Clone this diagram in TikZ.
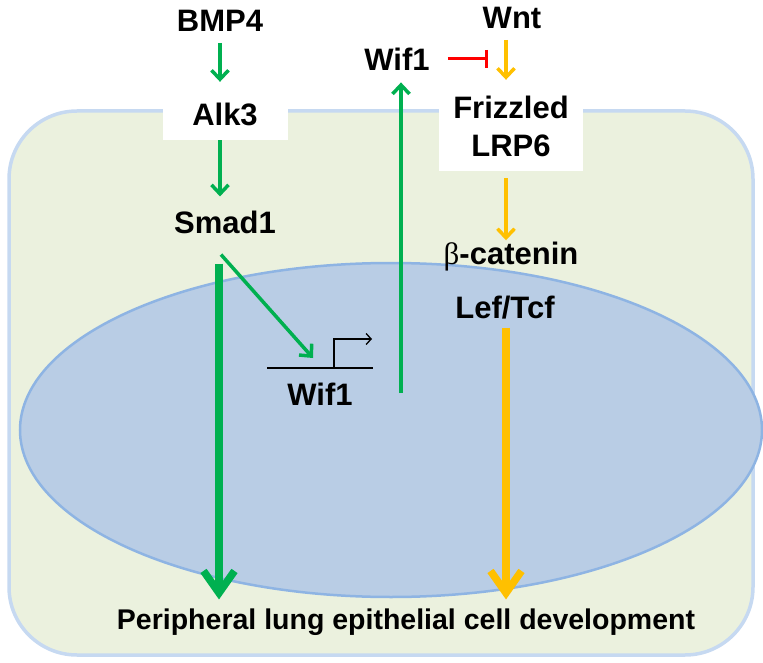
\documentclass[tikz,border=0pt]{standalone}
\usepackage{fontspec}
\setmainfont{Liberation Sans}
\newfontfamily\greekfont{Liberation Serif}
\usetikzlibrary{arrows.meta, positioning}
\definecolor{cytoplasm}{HTML}{EBF1DE}
\definecolor{membrane}{HTML}{C6D9F1}
\definecolor{nucleus}{HTML}{B9CDE5}
\definecolor{envelope}{HTML}{8EB4E3}
\definecolor{bmpgreen}{HTML}{00B050}
\definecolor{wntorange}{HTML}{FFC000}
\tikzset{
	x=1pt, y=-1pt,
	mol/.style={font=\fontsize{31}{38}\selectfont\bfseries, inner sep=0pt, align=center},
	receptor/.style={mol, fill=white},
	sig/.style={line width=3.5pt, -{Straight Barb[length=9pt, width=17pt]}},
	fat/.style={line width=7.5pt, -{Straight Barb[length=22pt, width=31pt]}},
	block/.style={line width=3pt, -{Bar[width=18pt]}},
}

\begin{document}
\begin{tikzpicture}
	\useasboundingbox (0,0) rectangle (763,663);
	\draw[fill=cytoplasm, draw=membrane, line width=3.5pt, rounded corners=68pt] (9,111) rectangle (753,655);
	\draw[fill=nucleus, draw=envelope, line width=2.5pt] (391,430) ellipse [x radius=371, y radius=167];

	\node[mol] (bmp4) at (220,21) {BMP4};
	\node[receptor, minimum width=125, minimum height=52] (alk3) at (225,114) {Alk3};
	\node[mol] (smad1) at (225,222) {Smad1};
	\node[mol] (wnt) at (512,18) {Wnt};
	\node[mol] (wif1) at (397,59) {Wif1};
	\node[receptor, minimum width=144, minimum height=90] (friz) at (511,126) {Frizzled\\LRP6};
	\node[mol] (bcat) at (511,257) {{\greekfont\mdseries β}-catenin};
	\node[mol] (leftcf) at (505,308) {Lef/Tcf};
	\node[mol] (gene) at (320,394) {Wif1};
	\node[mol, font=\fontsize{28.5}{34}\selectfont\bfseries] (dev) at (406,622) {Peripheral lung epithelial cell development};
	\coordinate (tss) at (334,368);
	\coordinate (wifout) at (401,393);

	\draw[sig, bmpgreen, shorten <=11pt, shorten >=6pt] (bmp4.south) -- (bmp4.south |- alk3.north);
	\draw[sig, bmpgreen, shorten >=14pt] ([shift={(-5,0)}]alk3.south) -- ([shift={(-5,0)}]alk3.south |- smad1.north);
	\draw[sig, bmpgreen] ([shift={(-4,21)}]smad1.south) -- ([shift={(-21,-10)}]tss);
	\draw[fat, bmpgreen, shorten <=30pt, shorten >=9pt] ([shift={(-6,0)}]smad1.south) -- ([shift={(-6,0)}]smad1.south |- dev.north);
	\draw[sig, bmpgreen, shorten >=12pt] (wifout) -- (wifout |- wif1.south);
	\draw[block, red, shorten <=18pt] (wif1.east) -- ([shift={(5,0)}]wif1.east -| wnt.west);
	\draw[sig, wntorange, shorten <=11pt, shorten >=1pt] ([shift={(-6,0)}]wnt.south) -- ([shift={(-6,0)}]wnt.south |- friz.north);
	\draw[sig, wntorange, shorten <=7pt, shorten >=2pt] ([shift={(-5,0)}]friz.south) -- ([shift={(-5,0)}]friz.south |- bcat.north);
	\draw[fat, wntorange, shorten <=8pt, shorten >=9pt] ([shift={(1,0)}]leftcf.south) -- ([shift={(1,0)}]leftcf.south |- dev.north);
	\draw[line width=1.3pt] ([shift={(-67,0)}]tss) -- ([shift={(39,0)}]tss);
	\draw[line width=1.3pt, -{Straight Barb[length=5pt, width=11pt]}] (tss) -- ++(0,-29) -- ++(38,0);
\end{tikzpicture}
\end{document}
